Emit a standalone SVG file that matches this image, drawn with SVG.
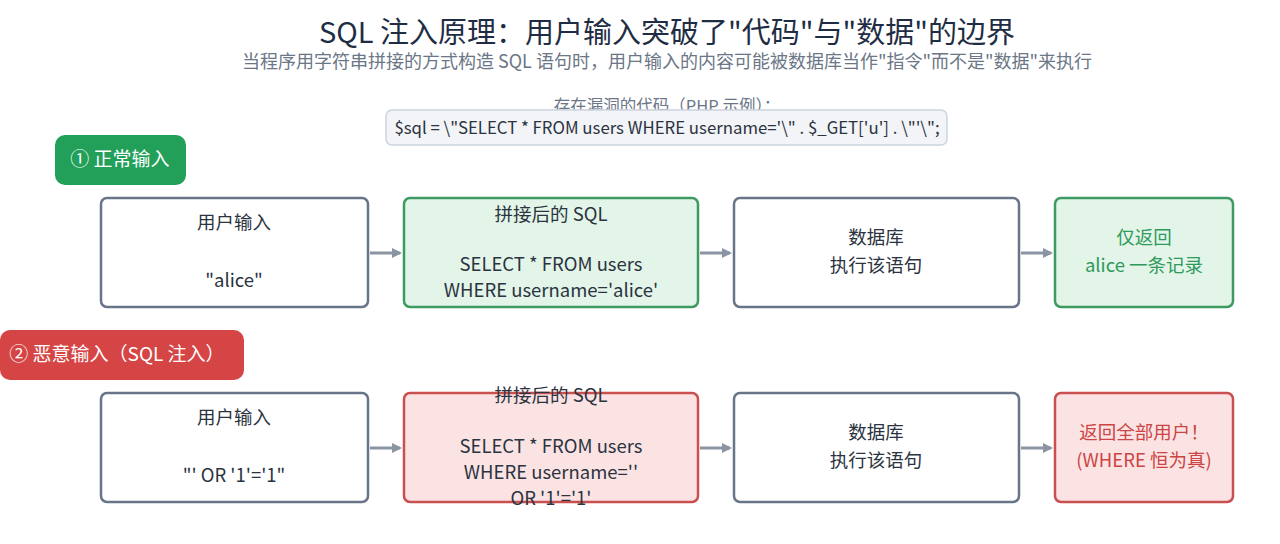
<svg xmlns="http://www.w3.org/2000/svg" width="1280" height="544" viewBox="0 0 1280 544">
<defs>
<marker id="ah" markerWidth="10" markerHeight="10" refX="8" refY="5" orient="auto" markerUnits="userSpaceOnUse">
<path d="M0,0 L10,5 L0,10 Z" fill="#8a94a3"/>
</marker>
<style>
text{font-family:"Noto Sans CJK SC","Noto Sans",sans-serif;}
.title{font-size:29px;fill:#1f2d44;text-anchor:middle;}
.sub{font-size:18px;fill:#6b7686;text-anchor:middle;}
.t{font-size:18.5px;fill:#2b3340;text-anchor:middle;}
.box{fill:#ffffff;stroke:#687487;stroke-width:2.5;}
.gbox{fill:#e2f5e8;stroke:#3f9a62;stroke-width:2.5;}
.rbox{fill:#fbe3e3;stroke:#c9504f;stroke-width:2.5;}
.gt{font-size:18.5px;fill:#2f9a5c;text-anchor:middle;}
.rt{font-size:18.5px;fill:#cc4444;text-anchor:middle;}
.badge{font-size:19px;fill:#ffffff;text-anchor:middle;}
.conn{stroke:#8a94a3;stroke-width:3;fill:none;marker-end:url(#ah);}
</style>
</defs>
<rect width="1280" height="544" fill="#ffffff"/>
<g id="header">
<text class="title" x="667" y="43">SQL 注入原理：用户输入突破了"代码"与"数据"的边界</text>
<text class="sub" x="667" y="68">当程序用字符串拼接的方式构造 SQL 语句时，用户输入的内容可能被数据库当作"指令"而不是"数据"来执行</text>
<text class="sub" x="667" y="112" style="font-size:16.5px">存在漏洞的代码（PHP 示例）：</text>
</g>
<g id="code">
<rect x="386" y="110" width="561" height="35" rx="6" fill="#f2f4f8" stroke="#ccd3de" stroke-width="1.5"/>
<text x="667" y="134" style="font-size:16.8px;fill:#2b3340;text-anchor:middle">$sql = \"SELECT * FROM users WHERE username='\" . $_GET['u'] . \"'\";</text>
</g>
<g id="badge1">
<rect x="55" y="135" width="131" height="50" rx="10" fill="#22a05a"/>
<text class="badge" x="120" y="166">① 正常输入</text>
</g>
<g id="badge2">
<rect x="0" y="330" width="244" height="50" rx="10" fill="#d64545"/>
<text class="badge" x="117" y="361">② 恶意输入（SQL 注入）</text>
</g>
<g id="connectors">
<line class="conn" x1="370" y1="253" x2="400" y2="253"/>
<line class="conn" x1="700" y1="253" x2="730" y2="253"/>
<line class="conn" x1="1021" y1="253" x2="1051" y2="253"/>
<line class="conn" x1="370" y1="448" x2="400" y2="448"/>
<line class="conn" x1="700" y1="448" x2="730" y2="448"/>
<line class="conn" x1="1021" y1="448" x2="1051" y2="448"/>
</g>
<g id="n1-input">
<rect class="box" x="101" y="198" width="267" height="109" rx="6"/>
<text class="t" x="234" y="229">用户输入</text>
<text class="t" x="234" y="287">"alice"</text>
</g>
<g id="n1-sql">
<rect class="gbox" x="404" y="198" width="294" height="109" rx="6"/>
<text class="t" x="551" y="221">拼接后的 SQL</text>
<text class="t" x="551" y="271">SELECT * FROM users</text>
<text class="t" x="551" y="297">WHERE username='alice'</text>
</g>
<g id="n1-db">
<rect class="box" x="734" y="198" width="285" height="109" rx="6"/>
<text class="t" x="876" y="244">数据库</text>
<text class="t" x="876" y="272">执行该语句</text>
</g>
<g id="n1-result">
<rect class="gbox" x="1055" y="198" width="178" height="109" rx="6"/>
<text class="gt" x="1144" y="244">仅返回</text>
<text class="gt" x="1144" y="272">alice 一条记录</text>
</g>
<g id="n2-input">
<rect class="box" x="101" y="393" width="267" height="109" rx="6"/>
<text class="t" x="234" y="424">用户输入</text>
<text class="t" x="234" y="482">"' OR '1'='1"</text>
</g>
<g id="n2-sql">
<rect class="rbox" x="404" y="393" width="294" height="109" rx="6"/>
<text class="t" x="551" y="402">拼接后的 SQL</text>
<text class="t" x="551" y="453">SELECT * FROM users</text>
<text class="t" x="551" y="479">WHERE username=''</text>
<text class="t" x="551" y="505">OR '1'='1'</text>
</g>
<g id="n2-db">
<rect class="box" x="734" y="393" width="285" height="109" rx="6"/>
<text class="t" x="876" y="439">数据库</text>
<text class="t" x="876" y="467">执行该语句</text>
</g>
<g id="n2-result">
<rect class="rbox" x="1055" y="393" width="178" height="109" rx="6"/>
<text class="rt" x="1144" y="439">返回全部用户！</text>
<text class="rt" x="1144" y="467">(WHERE 恒为真)</text>
</g>
</svg>
